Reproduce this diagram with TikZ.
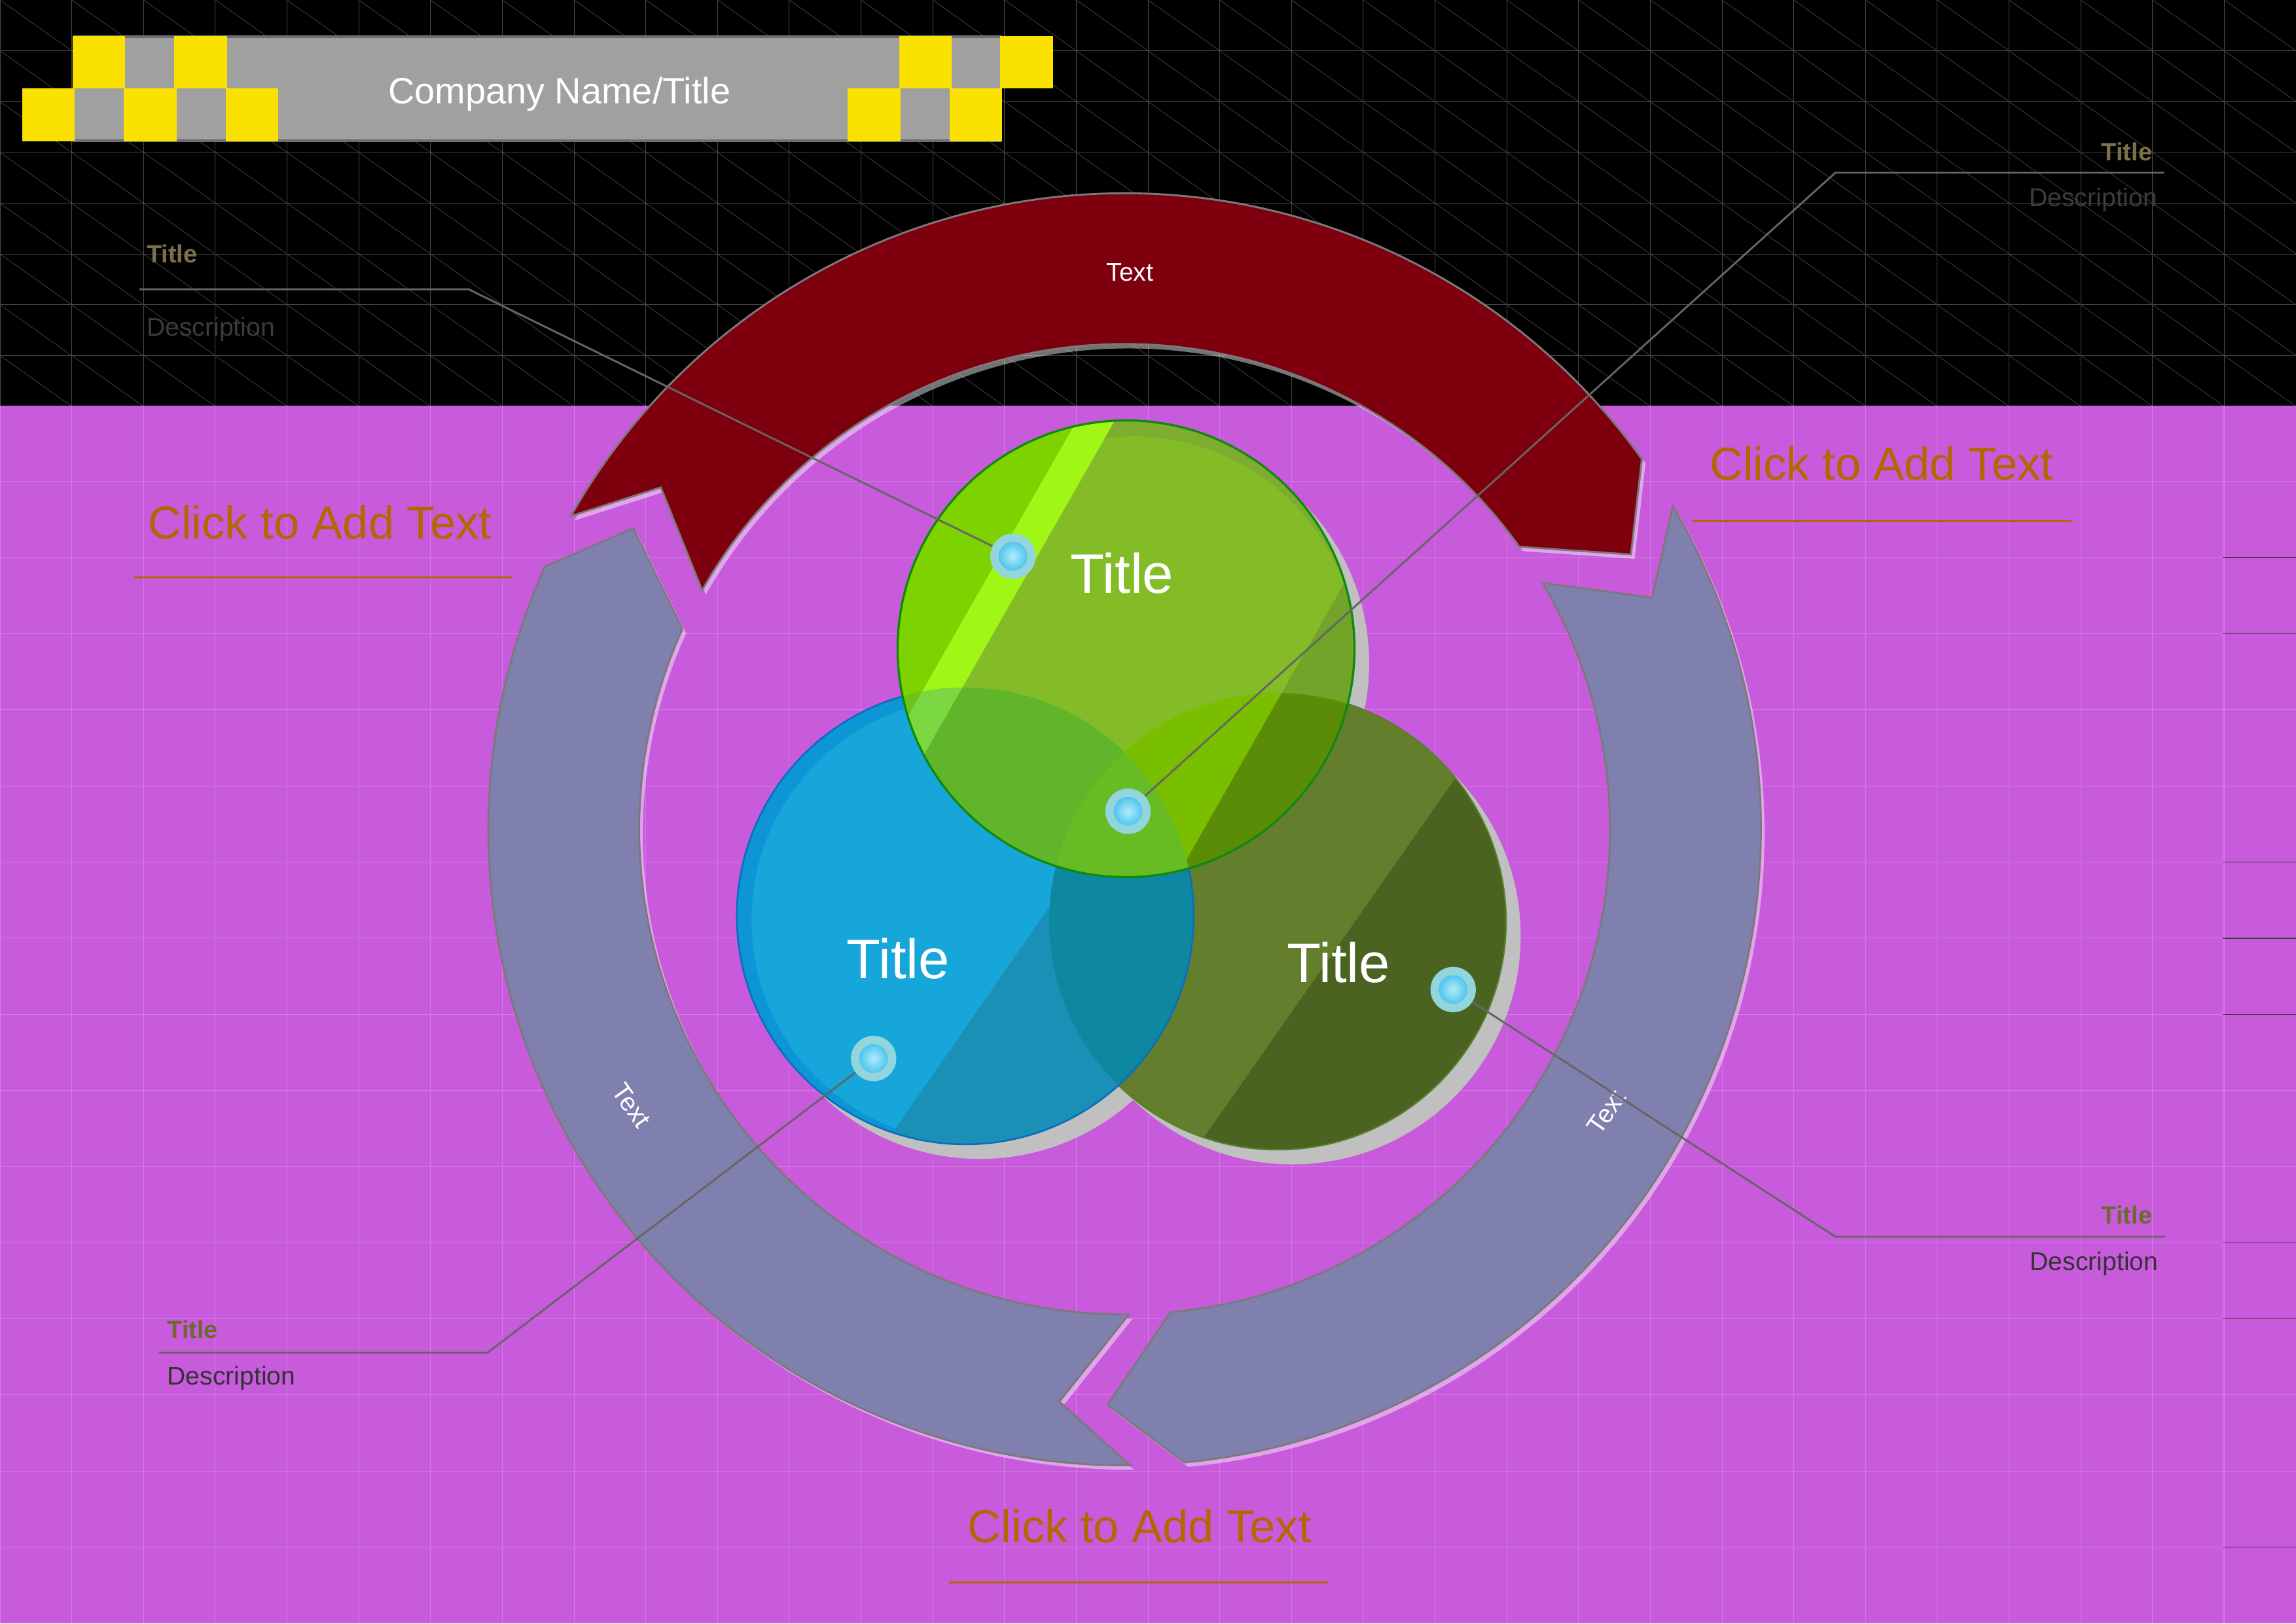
\documentclass[tikz,border=0pt]{standalone}
\usepackage{fontspec}
\setmainfont{Liberation Sans}
\definecolor{bgmag}{HTML}{C85ADC}
\definecolor{maggrid}{HTML}{D47CE4}
\definecolor{maggridlight}{HTML}{E0A0EC}
\definecolor{blkgrid}{HTML}{4A4A4A}
\definecolor{blkdiag}{HTML}{3E3E3E}
\definecolor{hgray}{HTML}{A0A0A0}
\definecolor{hborder}{HTML}{6E6E6E}
\definecolor{hyellow}{HTML}{FAE100}
\definecolor{arrred}{HTML}{7E000E}
\definecolor{arrgray}{HTML}{8080AF}
\definecolor{arrline}{HTML}{7A7A7A}
\definecolor{vshadow}{HTML}{C0C0C0}
\definecolor{olivebase}{HTML}{637F2D}
\definecolor{olivedark}{HTML}{4B6320}
\definecolor{oliveline}{HTML}{56802A}
\definecolor{blueedge}{HTML}{0E95D6}
\definecolor{bluebase}{HTML}{16A6DA}
\definecolor{bluedark}{HTML}{1A90B6}
\definecolor{blueline}{HTML}{0A6EC0}
\definecolor{blueolive}{HTML}{0E87A0}
\definecolor{greenouter}{HTML}{7EAC30}
\definecolor{greeninner}{HTML}{84BC28}
\definecolor{greenleft}{HTML}{7ED200}
\definecolor{greenstripe}{HTML}{A0F614}
\definecolor{greenright}{HTML}{72A42A}
\definecolor{greenblue}{HTML}{60B52A}
\definecolor{greenblueleft}{HTML}{6CC41A}
\definecolor{greenbluestripe}{HTML}{7CD840}
\definecolor{greenolive}{HTML}{7ABE00}
\definecolor{greenolivedark}{HTML}{5A8C08}
\definecolor{greentriple}{HTML}{66BC22}
\definecolor{greenline}{HTML}{0F8A0F}
\definecolor{dotring}{HTML}{92D5DC}
\definecolor{dotcore}{HTML}{B0ECFA}
\definecolor{dotedge}{HTML}{18AEE6}
\definecolor{calloutline}{HTML}{656565}
\definecolor{titleblk}{HTML}{7A714B}
\definecolor{descblk}{HTML}{3C3C3C}
\definecolor{titlemag}{HTML}{6B6B30}
\definecolor{descmag}{HTML}{333333}
\definecolor{clickcol}{HTML}{B06800}
\definecolor{darkseg}{HTML}{4A3A50}
\tikzset{
  ringred/.style={fill=arrred, draw=arrline, line width=1.3pt, line join=miter},
  ringgray/.style={fill=arrgray, draw=arrline, line width=1.3pt, line join=miter},
  ringshadow/.style={fill=white, fill opacity=0.45},
  ringtext/.style={text=white, font=\fontsize{17.5}{20}\selectfont, inner sep=0pt},
  venntitle/.style={text=white, font=\fontsize{38}{44}\selectfont, inner sep=0pt, anchor=base},
  dotbtn/.style={circle, minimum size=31pt, inner sep=0pt, fill=dotring,
    path picture={\shade[inner color=dotcore, outer color=dotedge] (path picture bounding box.center) circle[radius=9.8pt];}},
  callout/.style={draw=calloutline, line width=1.3pt},
  ctitleblk/.style={text=titleblk, font=\fontsize{17}{20}\selectfont\bfseries, inner sep=0pt},
  cdescblk/.style={text=descblk, font=\fontsize{17.5}{20}\selectfont, inner sep=0pt},
  ctitlemag/.style={text=titlemag, font=\fontsize{17}{20}\selectfont\bfseries, inner sep=0pt},
  cdescmag/.style={text=descmag, font=\fontsize{17.5}{20}\selectfont, inner sep=0pt},
  clicktext/.style={text=clickcol, font=\fontsize{31.5}{36}\selectfont, inner sep=0pt},
  clickline/.style={draw=clickcol, line width=1.5pt},
  ysq/.style={fill=hyellow},
}
\def\redpath{(150.5:434.5) arc[start angle=150.5,end angle=35.6,radius=434.5] -- (28.5:393.5) -- (35.6:331.5) arc[start angle=35.6,end angle=150.5,radius=331.5] -- (143.6:393.5) -- cycle}
\def\rgraypath{(30.5:434.5) arc[start angle=30.5,end angle=-84.6,radius=434.5] -- (-91.7:393.5) -- (-84.6:331.5) arc[start angle=-84.6,end angle=30.5,radius=331.5] -- (23.7:393.5) -- cycle}
\def\lgraypath{(-89.5:434.5) arc[start angle=-89.5,end angle=-204.4,radius=434.5] -- (-211.5:393.5) -- (-204.4:331.5) arc[start angle=-204.4,end angle=-89.5,radius=331.5] -- (-96.5:393.5) -- cycle}
\def\Gc{(769,665.8) circle[radius=156]}
\def\Bc{(659.2,483.3) circle[radius=156]}
\def\Oc{(872.5,479.6) circle[radius=156]}
\def\leftLone{(437.7,300) -- (899.3,1109) -- (0,1109) -- (0,300) -- cycle}
\def\stripe{(437.7,300) -- (899.3,1109) -- (925.2,1109) -- (463.6,300) -- cycle}
\def\rightLthree{(683.8,300) -- (1145.4,1109) -- (1568,1109) -- (1568,300) -- cycle}
\begin{document}
\begin{tikzpicture}[x=1pt,y=1pt]
\useasboundingbox (0,0) rectangle (1568,1109);
% ---------- background ----------
\fill[bgmag] (0,0) rectangle (1568,1109);
\foreach \k in {0,...,32} \draw[maggrid, line width=0.45pt] (49*\k,0) -- (49*\k,832);
\foreach \k in {0,...,16} \draw[maggrid, line width=0.45pt] (0,832.1-52*\k) -- (1568,832.1-52*\k);
\draw[maggridlight, line width=0.6pt] (1518,0) -- (1518,832);
\fill[black] (0,832) rectangle (1568,1109);
\begin{scope}
  \clip (0,832) rectangle (1568,1109);
  \foreach \k in {0,...,32} \draw[blkgrid, line width=0.45pt] (49*\k,832) -- (49*\k,1109);
  \foreach \k in {0,...,8} \draw[blkgrid, line width=0.45pt] (0,1109-34.7*\k) -- (1568,1109-34.7*\k);
  \foreach \m in {-8,...,32} \draw[blkdiag, line width=0.4pt] (0,1109+34.7*\m) -- (1568,1109+34.7*\m-1110.4);
\end{scope}
\foreach \yy in {380.9,432.9,588.9,640.9,692.9,848.9,900.9,1056.9} \draw[darkseg, line width=0.6pt] (1518,1109-\yy) -- (1568,1109-\yy);
% ---------- header ----------
\fill[hgray] (50,1013) rectangle (684,1084);
\draw[hborder, line width=1.6pt] (50,1084) -- (684,1084);
\draw[hborder, line width=1.6pt] (50,1013) -- (684,1013);
\foreach \xx in {49.5,119,614,683} \fill[ysq] (\xx,1048.5) rectangle (\xx+36,1084.5);
\foreach \xx in {15,84.5,154,579,648.5} \fill[ysq] (\xx,1012.5) rectangle (\xx+36,1048.5);
\node[text=white, font=\fontsize{25}{30}\selectfont, inner sep=0pt, anchor=base] (company) at (382,1038.2) {Company Name/Title};
% ---------- ring arrows ----------
\begin{scope}[shift={(768,542.5)}]
  \fill[ringshadow, shift={(2.5,-3)}] \redpath;
  \fill[ringshadow, shift={(2.5,-3)}] \rgraypath;
  \fill[ringshadow, shift={(2.5,-3)}] \lgraypath;
  \path[ringred] \redpath;
  \path[ringgray] \rgraypath;
  \path[ringgray] \lgraypath;
\end{scope}
\node[ringtext, anchor=base] (toptext) at (771.7,917) {Text};
\node[ringtext, rotate=-55] (lefttext) at (431.4,353.7) {Text};
\node[ringtext, rotate=55] (righttext) at (1097.1,349.5) {Text};
% ---------- venn circles ----------
\fill[vshadow] (779,655.8) circle[radius=156];
\fill[vshadow] (669.2,473.3) circle[radius=156];
\fill[vshadow] (882.5,469.6) circle[radius=156];
% olive
\fill[olivebase] \Oc;
\begin{scope}
  \clip \Oc;
  \fill[olivedark] (764.8,250) -- (1079.7,700) -- (1200,700) -- (1200,250) -- cycle;
\end{scope}
\draw[oliveline, line width=1pt] \Oc;
% blue
\fill[blueedge] \Bc;
\begin{scope}
  \clip \Bc;
  \fill[bluebase] (665.2,480.3) circle[radius=152];
  \fill[bluedark] (550.4,250) -- (862.9,700) -- (1100,700) -- (1100,250) -- cycle;
  \fill[blueolive] \Oc;
\end{scope}
\draw[blueline, line width=1.2pt] \Bc;
% green
\begin{scope}
  \clip \Gc;
  \fill[greenouter] \Gc;
  \fill[greeninner] (774,657.8) circle[radius=153];
  \fill[greenleft] \leftLone;
  \fill[greenstripe] \stripe;
  \fill[greenright] \rightLthree;
  \begin{scope}
    \clip \Bc;
    \fill[greenblue] \Bc;
    \fill[greenblueleft] \leftLone;
    \fill[greenbluestripe] \stripe;
  \end{scope}
  \begin{scope}
    \clip \Oc;
    \fill[greenolive] \Oc;
    \fill[greenolivedark] \rightLthree;
    \begin{scope}
      \clip \Bc;
      \fill[greentriple] \Bc;
    \end{scope}
  \end{scope}
\end{scope}
\draw[greenline, line width=1.5pt] \Gc;
\node[venntitle] (gtitle) at (766.3,704) {Title};
\node[venntitle] (btitle) at (613.3,440.6) {Title};
\node[venntitle] (otitle) at (914.2,437.8) {Title};
% ---------- dots ----------
\node[dotbtn] (d1) at (691.8,729) {};
\node[dotbtn] (d2) at (770.4,554.8) {};
\node[dotbtn] (d3) at (992.4,433) {};
\node[dotbtn] (d4) at (596.6,385.9) {};
% ---------- callouts ----------
\coordinate (tlA) at (95,911.4);
\coordinate (tlB) at (320,911.4);
\coordinate (trA) at (1478,991);
\coordinate (trB) at (1253.4,991);
\coordinate (brA) at (1478.5,264.2);
\coordinate (brB) at (1253.4,264.2);
\coordinate (blA) at (108.3,185);
\coordinate (blB) at (333,185);
\draw[callout] (tlA) -- (tlB) -- (d1);
\draw[callout] (trA) -- (trB) -- (d2);
\draw[callout] (brA) -- (brB) -- (d3);
\draw[callout] (blA) -- (blB) -- (d4);
\node[ctitleblk, anchor=base west] (tlt) at (100,929.6) {Title};
\node[cdescblk, anchor=base west] (tld) at (100,879.5) {Description};
\node[ctitleblk, anchor=base east] (trt) at (1470,999.2) {Title};
\node[cdescblk, anchor=base east] (trd) at (1473.5,968) {Description};
\node[ctitlemag, anchor=base east] (brt) at (1470,273) {Title};
\node[cdescmag, anchor=base east] (brd) at (1474,241.4) {Description};
\node[ctitlemag, anchor=base west] (blt) at (114,194.5) {Title};
\node[cdescmag, anchor=base west] (bld) at (114,163) {Description};
% ---------- click to add text ----------
\node[clicktext, anchor=base west] (clickL) at (101,741.1) {Click to Add Text};
\draw[clickline] (91.2,714.4) -- (349.8,714.4);
\node[clicktext, anchor=base west] (clickR) at (1167.4,781) {Click to Add Text};
\draw[clickline] (1156,753.1) -- (1414.8,753.1);
\node[clicktext, anchor=base east] (clickB) at (895.8,55.3) {Click to Add Text};
\draw[clickline] (648,28) -- (907,28);
\end{tikzpicture}
\end{document}
